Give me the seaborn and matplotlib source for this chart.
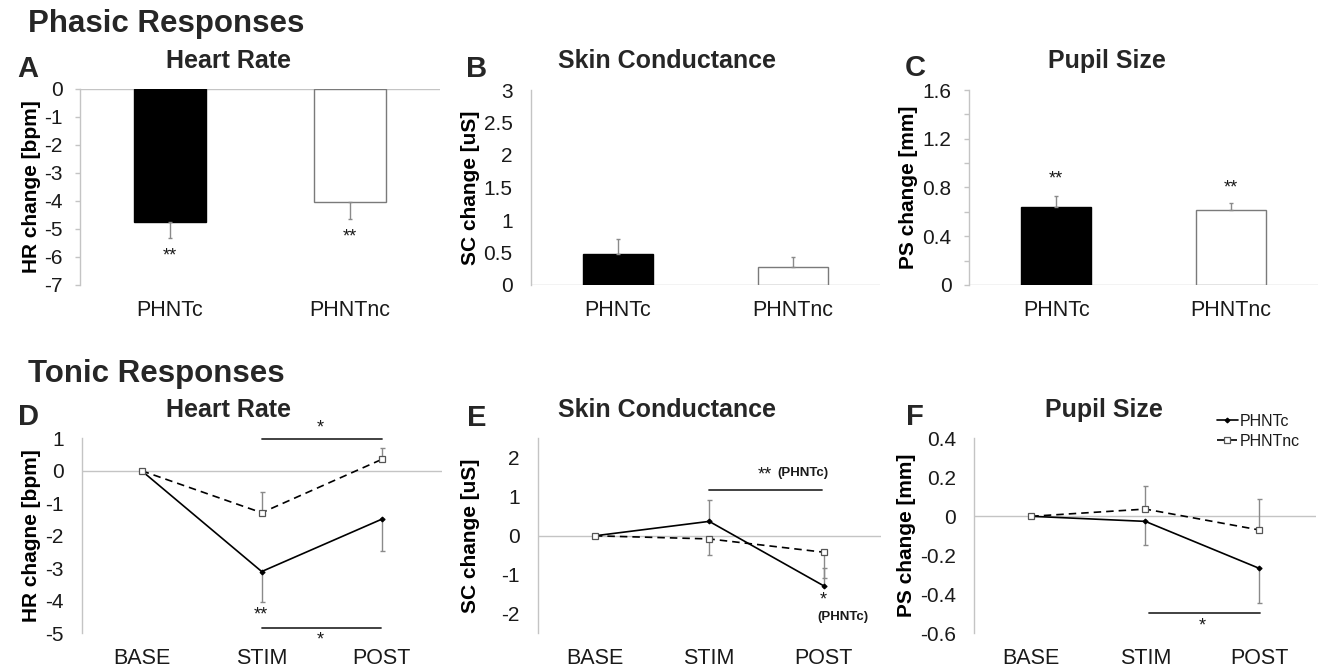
import numpy as np
import pandas as pd
import matplotlib
matplotlib.use('Agg')
import matplotlib.pyplot as plt
import seaborn as sns

# ---------------- data ----------------
groups = ['PHNTc', 'PHNTnc']
phases = ['BASE', 'STIM', 'POST']

# Phasic responses (bar charts)
hr_phasic = [-4.74, -4.02]
hr_phasic_err = [0.57, 0.62]
sc_phasic = [0.47, 0.28]
sc_phasic_err = [0.23, 0.155]
ps_phasic = [0.637, 0.618]
ps_phasic_err = [0.096, 0.052]

# Tonic responses (line charts)
hr_tonic_c = [0.0, -3.10, -1.49]
hr_tonic_nc = [0.0, -1.29, 0.35]
hr_c_err_down = [0.0, 0.93, 0.97]
hr_nc_err_up = [0.0, 0.65, 0.34]

sc_tonic_c = [0.0, 0.37, -1.28]
sc_tonic_nc = [0.0, -0.08, -0.42]
sc_c_err_up = [0.0, 0.55, 0.45]
sc_nc_err_down = [0.0, 0.40, 0.65]

ps_tonic_c = [0.0, -0.026, -0.267]
ps_tonic_nc = [0.0, 0.037, -0.07]
ps_c_err_down = [0.0, 0.12, 0.18]
ps_nc_err_up = [0.0, 0.12, 0.16]

# tick labels
hr_ph_ticks = ['0', '-1', '-2', '-3', '-4', '-5', '-6', '-7']
sc_ph_ticks = ['0', '0.5', '1', '1.5', '2', '2.5', '3']
ps_ph_ticks = ['0', '0.4', '0.8', '1.2', '1.6']
hr_to_ticks = ['1', '0', '-1', '-2', '-3', '-4', '-5']
sc_to_ticks = ['2', '1', '0', '-1', '-2']
ps_to_ticks = ['0.4', '0.2', '0', '-0.2', '-0.4', '-0.6']

# ---------------- style ----------------
sns.set_theme(style='white')
plt.rcParams['font.family'] = ['Liberation Sans', 'DejaVu Sans']
plt.rcParams['axes.unicode_minus'] = False

W, H = 1318, 672
fig = plt.figure(figsize=(W / 100, H / 100), dpi=100)
fig.patch.set_facecolor('white')

TXT = '#1a1a1a'
SPINE = '#c4c4c4'
ERR = '#8a8a8a'
XT = 15.5   # x tick label size
YT = 15     # y tick label size
YL = 15     # y label size
ST = 13     # star size


def add_ax(left, right, top, bottom):
    return fig.add_axes([left / W, 1 - bottom / H, (right - left) / W, (bottom - top) / H])


def ftext(x, y, s, **kw):
    fig.text(x / W, 1 - y / H, s, **kw)


def style_axis(ax, ticklen=0, ypad=13, xpad=12):
    sns.despine(ax=ax, bottom=True)
    ax.spines['left'].set_color(SPINE)
    ax.spines['left'].set_linewidth(1)
    ax.axhline(0, color=SPINE, lw=1, zorder=0)
    ax.tick_params(axis='x', length=0, pad=xpad, labelsize=XT, colors=TXT)
    ax.tick_params(axis='y', which='both', length=ticklen, width=1, color=SPINE,
                   pad=ypad, labelsize=YT, labelcolor=TXT, left=True)
    ax.grid(False)
    ax.set_xlabel('')


def bar_panel(ax, vals, errs, ylim, ticks, ticklabels, ylabel, label_x, minor=None, ticklen=0, ypad=13):
    df = pd.DataFrame({'group': groups, 'value': vals})
    sns.barplot(data=df, x='group', y='value', hue='group',
                palette={'PHNTc': 'black', 'PHNTnc': 'white'}, saturation=1,
                width=0.4, errorbar=None, legend=False, ax=ax,
                linewidth=1, edgecolor='black')
    for p in ax.patches:
        if p.get_facecolor()[0] > 0.5:
            p.set_edgecolor('#7a7a7a')
    v = np.array(vals)
    e = np.array(errs)
    lo = np.where(v < 0, e, 0)
    hi = np.where(v >= 0, e, 0)
    ax.errorbar(np.arange(len(v)), v, yerr=[lo, hi], fmt='none', ecolor=ERR,
                elinewidth=1, capsize=1.5, capthick=1, zorder=1)
    ax.set_xlim(-0.5, len(v) - 0.5)
    ax.set_ylim(*ylim)
    ax.set_yticks(ticks)
    ax.set_yticklabels(ticklabels)
    if minor is not None:
        ax.set_yticks(minor, minor=True)
    style_axis(ax, ticklen=ticklen, ypad=ypad, xpad=11)
    ax.set_ylabel(ylabel, fontsize=YL, fontweight='bold', color='black', va='center')
    ax.yaxis.set_label_coords(label_x, 0.5)


def line_panel(ax, c, nc, c_lo, c_hi, nc_lo, nc_hi, ylim, ticks, ticklabels, ylabel, label_x):
    df = pd.DataFrame({'phase': phases * 2, 'value': c + nc,
                       'group': ['PHNTc'] * 3 + ['PHNTnc'] * 3})
    sns.pointplot(data=df, x='phase', y='value', hue='group',
                  palette={'PHNTc': 'black', 'PHNTnc': 'black'},
                  markers=['D', 's'], linestyles=['-', '--'], errorbar=None,
                  markersize=2.5, linewidth=1.2, legend=False, ax=ax)
    x = np.arange(3)
    for vals, lo, hi in [(c, c_lo, c_hi), (nc, nc_lo, nc_hi)]:
        lo = np.array(lo); hi = np.array(hi)
        m = (lo + hi) > 0
        ax.errorbar(x[m], np.array(vals)[m], yerr=[lo[m], hi[m]], fmt='none',
                    ecolor=ERR, elinewidth=1, capsize=1.8, capthick=1, zorder=1)
    for ln in ax.lines:
        if ln.get_linestyle() == '--':
            ln.set_dashes([4.5, 3])
            ln.set_markerfacecolor('white')
            ln.set_markeredgecolor('#555555')
            ln.set_markersize(4.5)
            ln.set_markeredgewidth(0.9)
            ln.set_label('PHNTnc')
            ln.set_zorder(3)
        elif ln.get_marker() == 'D':
            ln.set_markersize(2.4)
            ln.set_label('PHNTc')
            ln.set_zorder(3)
    ax.set_xlim(-0.5, 2.5)
    ax.set_ylim(*ylim)
    ax.set_yticks(ticks)
    ax.set_yticklabels(ticklabels)
    style_axis(ax, ticklen=0, ypad=13, xpad=10.5)
    ax.set_ylabel(ylabel, fontsize=YL, fontweight='bold', color='black', va='center')
    ax.yaxis.set_label_coords(label_x, 0.5)


# ---------------- panels ----------------
axA = add_ax(80, 440, 89, 285)
bar_panel(axA, hr_phasic, hr_phasic_err, (-7, 0), np.arange(0, -8, -1), hr_ph_ticks,
          'HR change [bpm]', (31.7 - 80) / 360, ticklen=3.5, ypad=9)
axA.text(0, -5.95, '**', ha='center', va='center', fontsize=ST, color=TXT)
axA.text(1, -5.3, '**', ha='center', va='center', fontsize=ST, color=TXT)

axB = add_ax(530.7, 880, 90, 285)
bar_panel(axB, sc_phasic, sc_phasic_err, (0, 3), np.arange(0, 3.01, 0.5), sc_ph_ticks,
          'SC change [uS]', (470 - 530.7) / 349.3, ticklen=0, ypad=13)

axC = add_ax(969, 1318, 90, 285)
bar_panel(axC, ps_phasic, ps_phasic_err, (0, 1.6), np.arange(0, 1.61, 0.4), ps_ph_ticks,
          'PS change [mm]', (908 - 969) / 349, minor=np.arange(0, 1.61, 0.2),
          ticklen=3.5, ypad=9)
axC.text(0, 0.87, '**', ha='center', va='center', fontsize=ST, color=TXT)
axC.text(1, 0.80, '**', ha='center', va='center', fontsize=ST, color=TXT)

axD = add_ax(81.7, 441.7, 438.3, 633.3)
line_panel(axD, hr_tonic_c, hr_tonic_nc, hr_c_err_down, [0, 0, 0], [0, 0, 0], hr_nc_err_up,
           (-5, 1), np.arange(1, -5.1, -1), hr_to_ticks, 'HR chagne [bpm]', (31.7 - 81.7) / 360)
axD.plot([1.0, 2.0], [0.97, 0.97], color='#333333', lw=1.3, clip_on=False)
axD.text(1.49, 1.32, '*', ha='center', va='center', fontsize=ST, color=TXT)
axD.plot([1.0, 1.99], [-4.83, -4.83], color='#333333', lw=1.3, clip_on=False)
axD.text(1.49, -5.2, '*', ha='center', va='center', fontsize=ST, color=TXT, clip_on=False)
axD.text(0.99, -4.45, '**', ha='center', va='center', fontsize=ST, color=TXT)

axE = add_ax(537.7, 880.7, 438.3, 633.3)
line_panel(axE, sc_tonic_c, sc_tonic_nc, [0, 0, 0], sc_c_err_up, sc_nc_err_down, [0, 0, 0],
           (-2.5, 2.5), np.arange(2, -2.1, -1), sc_to_ticks, 'SC change [uS]', (470 - 537.7) / 343)
axE.plot([1.0, 1.99], [1.18, 1.18], color='#333333', lw=1.3)
axE.text(1.485, 1.55, '**', ha='center', va='center', fontsize=ST, color=TXT)
axE.text(1.60, 1.62, '(PHNTc)', ha='left', va='center', fontsize=9.5, fontweight='bold', color=TXT)
axE.text(2.0, -1.64, '*', ha='center', va='center', fontsize=ST, color=TXT)
axE.text(2.17, -2.07, '(PHNTc)', ha='center', va='center', fontsize=9.5, fontweight='bold', color=TXT)

axF = add_ax(974.3, 1316.3, 438.3, 633.3)
line_panel(axF, ps_tonic_c, ps_tonic_nc, ps_c_err_down, [0, 0, 0], [0, 0, 0], ps_nc_err_up,
           (-0.6, 0.4), np.arange(0.4, -0.61, -0.2), ps_to_ticks, 'PS change [mm]', (906.7 - 974.3) / 342)
axF.plot([1.03, 2.01], [-0.497, -0.497], color='#333333', lw=1.3)
axF.text(1.5, -0.56, '*', ha='center', va='center', fontsize=ST, color=TXT)
handles = [ln for ln in axF.lines if ln.get_label() in groups]
handles = sorted(handles, key=lambda l: groups.index(l.get_label()))
fig.legend(handles=handles, labels=[h.get_label() for h in handles],
           loc='upper left', bbox_to_anchor=(1209 / W, 1 - 406 / H),
           frameon=False, fontsize=11.5, handlelength=1.3, handletextpad=0.15,
           labelspacing=0.3, borderpad=0, labelcolor=TXT)

# ---------------- titles and letters ----------------
ftext(28, 31.7, 'Phasic Responses', fontsize=22.5, fontweight='bold', ha='left', va='baseline')
ftext(28, 381.7, 'Tonic Responses', fontsize=22.5, fontweight='bold', ha='left', va='baseline')

for x, y, s in [(229, 68.3, 'Heart Rate'), (666.7, 68.3, 'Skin Conductance'),
                (1106.7, 68.3, 'Pupil Size'), (229, 417.3, 'Heart Rate'),
                (666.7, 416.7, 'Skin Conductance'), (1104, 417.3, 'Pupil Size')]:
    ftext(x, y, s, fontsize=18, fontweight='bold', ha='center', va='baseline')

for x, y, s in [(28, 76.7, 'A'), (477, 76.7, 'B'), (915, 76.3, 'C'),
                (29, 425, 'D'), (476.7, 426.5, 'E'), (915, 425, 'F')]:
    ftext(x, y, s, fontsize=21, fontweight='bold', ha='center', va='baseline')

fig.savefig('out.png', dpi=100, facecolor='white')
